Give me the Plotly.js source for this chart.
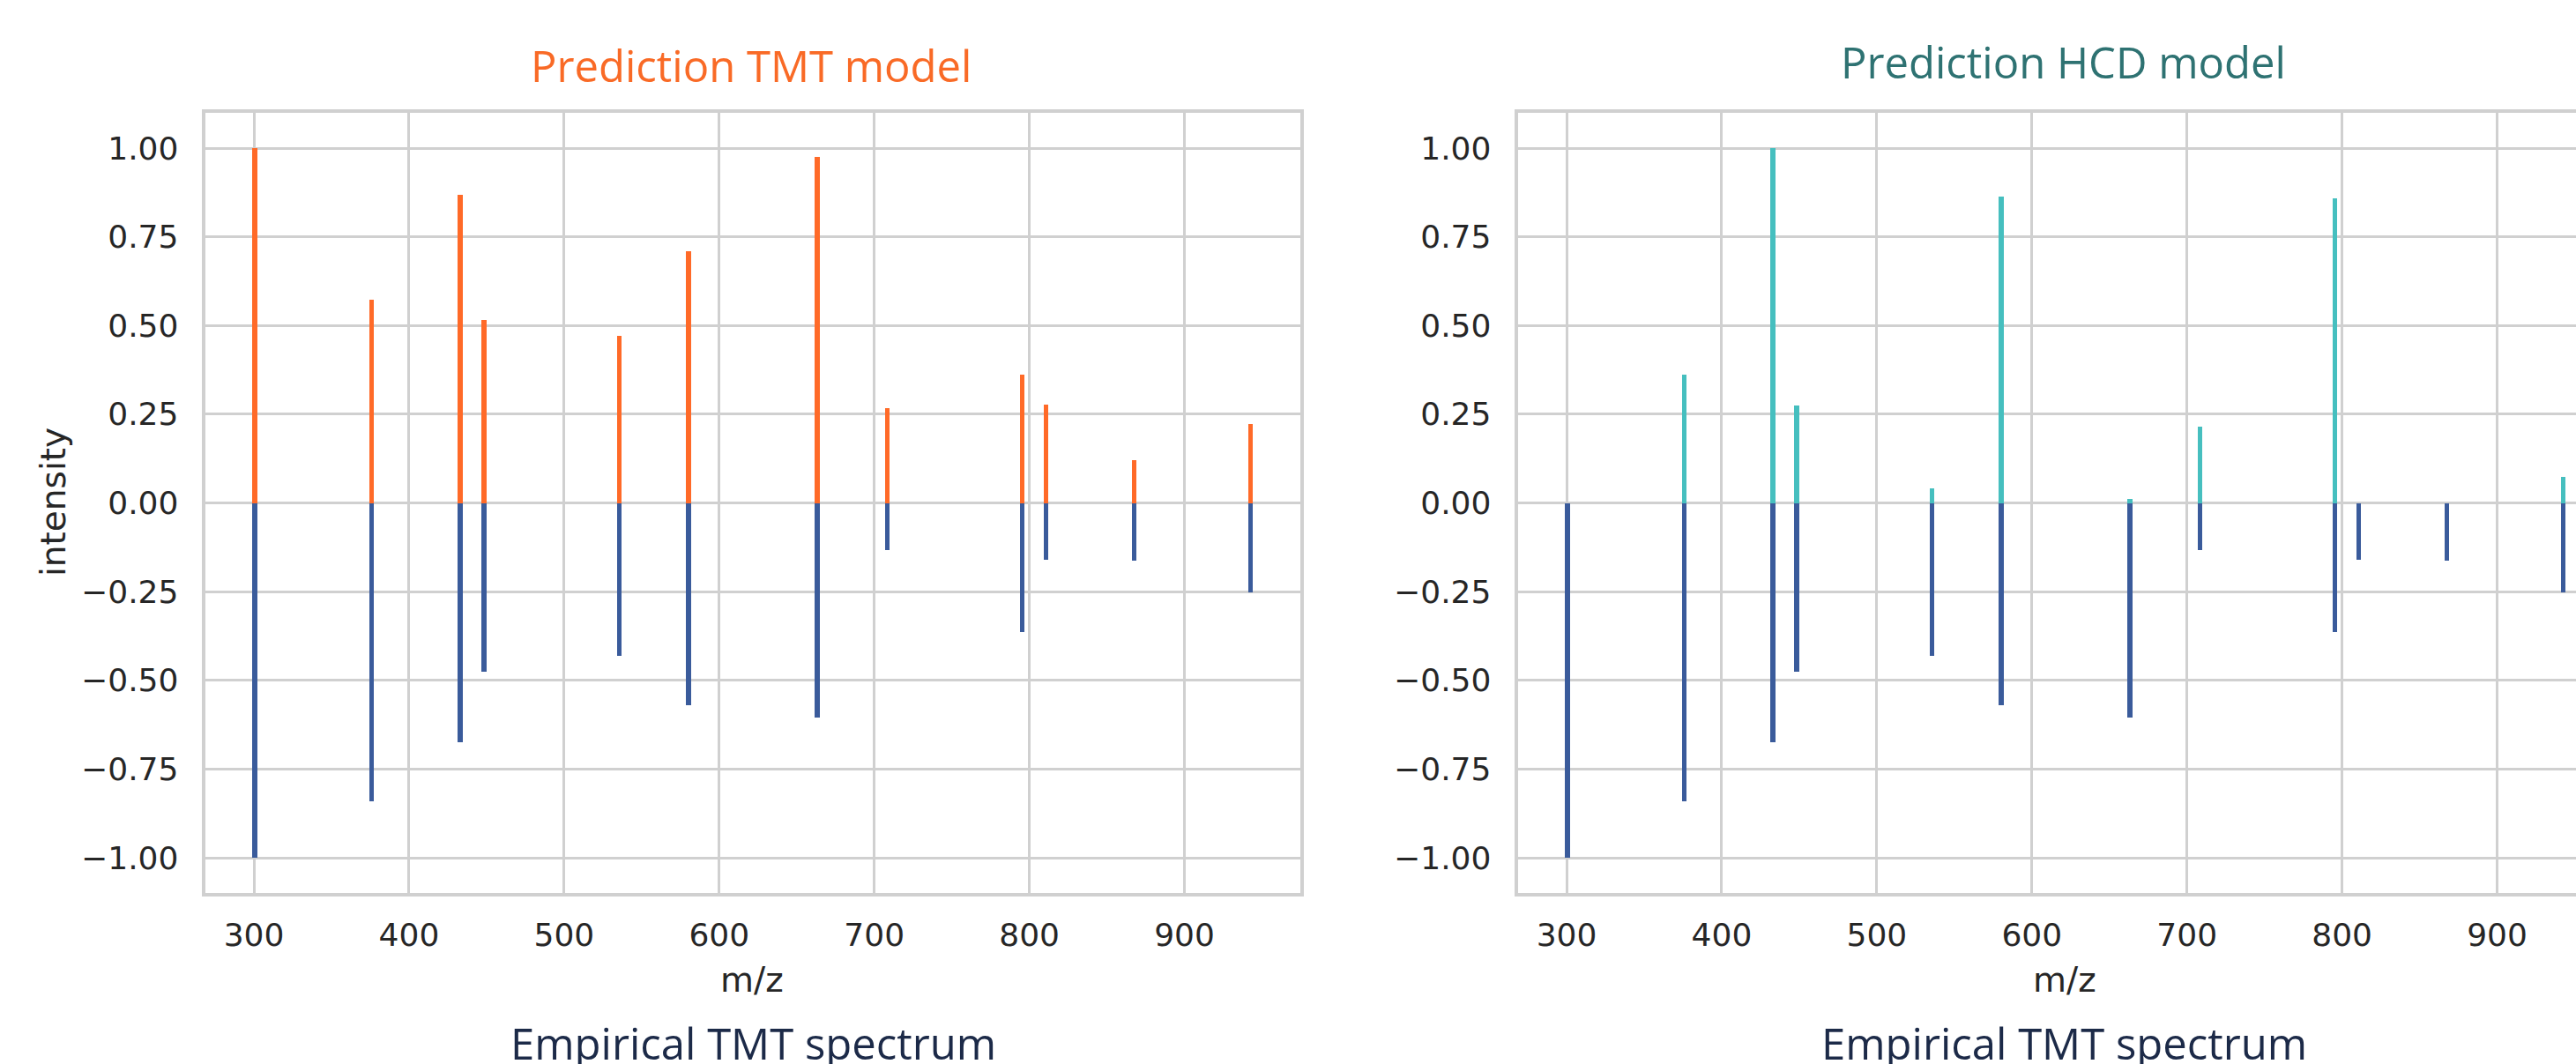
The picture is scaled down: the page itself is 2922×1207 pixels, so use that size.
<!DOCTYPE html>
<html>
<head>
<meta charset="utf-8">
<script src="https://cdn.plot.ly/plotly-3.0.1.min.js"></script>
<style>
  html, body { margin: 0; padding: 0; background: #ffffff; overflow: hidden; }
  #chart { width: 2970px; height: 1207px; }
</style>
</head>
<body>
<div id="chart"></div>
<script>
// ---- data ----
const mz = [300.6, 376.0, 433.1, 448.3, 535.5, 580.3, 663.3, 708.5, 795.4, 810.8, 867.6, 942.6];
const tmtPrediction = [1.00, 0.573, 0.869, 0.516, 0.472, 0.709, 0.974, 0.266, 0.361, 0.277, 0.120, 0.222];
const hcdPrediction = [0.0, 0.361, 1.00, 0.275, 0.040, 0.863, 0.010, 0.216, 0.858, 0.0, 0.0, 0.073];
const empiricalMirrored = [-1.00, -0.842, -0.674, -0.476, -0.432, -0.571, -0.606, -0.134, -0.365, -0.159, -0.162, -0.252];
const yTicks = [-1.0, -0.75, -0.5, -0.25, 0.0, 0.25, 0.5, 0.75, 1.0];
const xTicks = [300, 400, 500, 600, 700, 800, 900];
const panelTitles = ["Prediction TMT model", "Prediction HCD model"];
const bottomLabel = "Empirical TMT spectrum";
const xLabel = "m/z";
const yLabel = "intensity";

// ---- styling ----
const W = 2970, H = 1207;
const orange = "#ff6a28";
const teal = "#46bfbf";
const blue = "#3a5b9b";
const gridColor = "#d0d0d0";
const tickColor = "#262626";
const stickWidth = 3.1;

const px = v => v / W;
const py = v => 1 - v / H;

function stick(x, y, color, xa, ya) {
  return {
    type: "bar", x: x, y: y, width: stickWidth, base: 0,
    marker: { color: color, line: { width: 0 } },
    xaxis: xa, yaxis: ya, hoverinfo: "x+y", showlegend: false
  };
}

const traces = [
  stick(mz, tmtPrediction, orange, "x", "y"),
  stick(mz, empiricalMirrored, blue, "x", "y"),
  stick(mz, hcdPrediction, teal, "x2", "y2"),
  stick(mz, empiricalMirrored, blue, "x2", "y2")
];

const xCommon = {
  range: [268.5, 974.5],
  tickvals: xTicks,
  showgrid: true, gridcolor: gridColor, gridwidth: 3,
  zeroline: false,
  showline: true, mirror: true, linecolor: gridColor, linewidth: 4,
  ticks: "outside", ticklen: 13, tickcolor: "rgba(0,0,0,0)",
  tickfont: { family: "DejaVu Sans", size: 36, color: tickColor }
};
const yCommon = {
  range: [-1.1, 1.1],
  tickvals: yTicks,
  tickformat: ".2f",
  showgrid: true, gridcolor: gridColor, gridwidth: 3,
  zeroline: false,
  showline: true, mirror: true, linecolor: gridColor, linewidth: 4,
  ticks: "outside", ticklen: 19, tickcolor: "rgba(0,0,0,0)",
  tickfont: { family: "DejaVu Sans", size: 36, color: tickColor }
};

const yDom = [(H - 1013.25) / H, (H - 127.75) / H];

const titleFont = (c) => ({ family: "Open Sans", size: 49, color: c });

const layout = {
  width: W, height: H,
  margin: { l: 0, r: 0, t: 0, b: 0 },
  paper_bgcolor: "#ffffff", plot_bgcolor: "#ffffff",
  barmode: "overlay",
  bargap: 0,
  xaxis: Object.assign({}, xCommon, { domain: [px(232.6), px(1474.6)], anchor: "y" }),
  yaxis: Object.assign({}, yCommon, { domain: yDom, anchor: "x" }),
  xaxis2: Object.assign({}, xCommon, { domain: [px(1721.6), px(2963.6)], anchor: "y2" }),
  yaxis2: Object.assign({}, yCommon, { domain: yDom, anchor: "x2" }),
  annotations: [
    { text: panelTitles[0], xref: "paper", yref: "paper", x: px(852), y: py(74), xanchor: "center", yanchor: "middle", showarrow: false, font: titleFont("#f96a26") },
    { text: panelTitles[1], xref: "paper", yref: "paper", x: px(2340), y: py(70), xanchor: "center", yanchor: "middle", showarrow: false, font: titleFont("#2e7272") },
    { text: bottomLabel, xref: "paper", yref: "paper", x: px(854), y: py(1183), xanchor: "center", yanchor: "middle", showarrow: false, font: titleFont("#1c2a48") },
    { text: bottomLabel, xref: "paper", yref: "paper", x: px(2341), y: py(1183), xanchor: "center", yanchor: "middle", showarrow: false, font: titleFont("#1c2a48") },
    { text: xLabel, xref: "paper", yref: "paper", x: px(853), y: py(1111), xanchor: "center", yanchor: "middle", showarrow: false, font: { family: "DejaVu Sans", size: 39, color: tickColor } },
    { text: xLabel, xref: "paper", yref: "paper", x: px(2342), y: py(1111), xanchor: "center", yanchor: "middle", showarrow: false, font: { family: "DejaVu Sans", size: 39, color: tickColor } },
    { text: yLabel, xref: "paper", yref: "paper", x: px(60), y: py(570), xanchor: "center", yanchor: "middle", textangle: -90, showarrow: false, font: { family: "DejaVu Sans", size: 39, color: tickColor } }
  ]
};

Plotly.newPlot("chart", traces, layout, { displayModeBar: false, staticPlot: true });
</script>
</body>
</html>
